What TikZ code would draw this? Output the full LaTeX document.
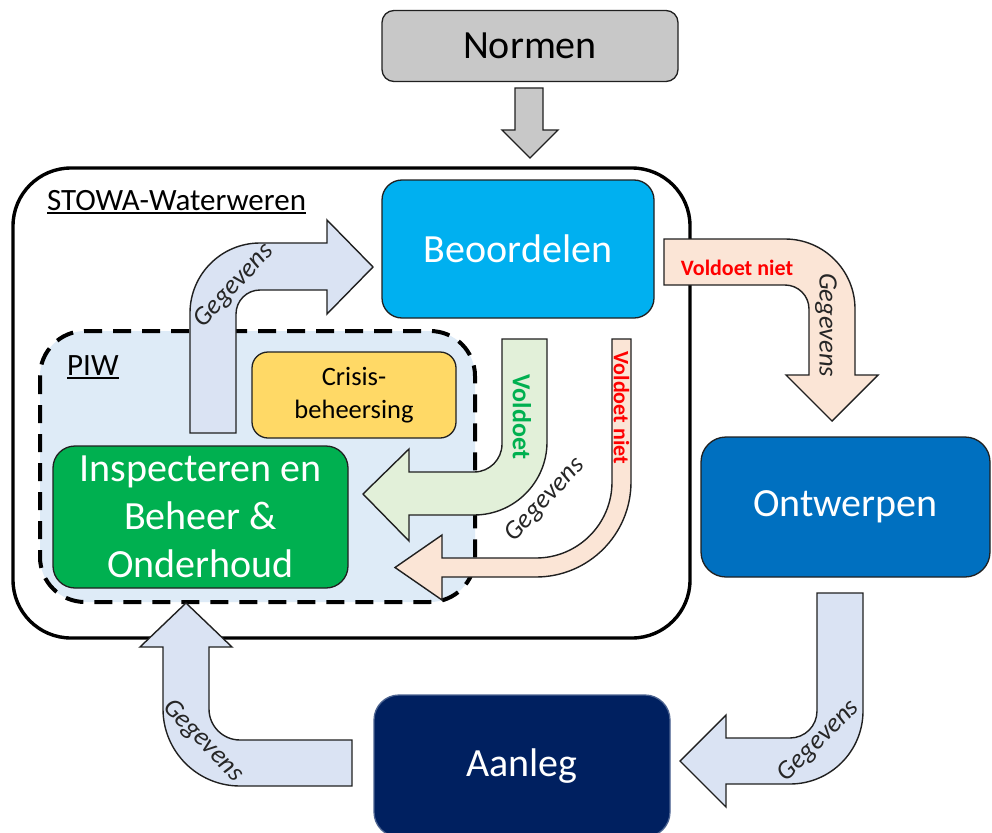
\documentclass[tikz,border=0pt]{standalone}
\usepackage{fontspec}
\setmainfont{Carlito}
\definecolor{normgray}{HTML}{C8C8C8}
\definecolor{beoblue}{HTML}{00B0F0}
\definecolor{ontblue}{HTML}{0070C0}
\definecolor{aanblue}{HTML}{002060}
\definecolor{insgreen}{HTML}{00B050}
\definecolor{crisyellow}{HTML}{FFD966}
\definecolor{piwfill}{HTML}{DEEBF7}
\definecolor{arrblue}{HTML}{DAE3F3}
\definecolor{arrgreen}{HTML}{E2F0D9}
\definecolor{arrsalmon}{HTML}{FBE5D6}
\definecolor{txtgreen}{HTML}{00B050}
\definecolor{edge}{HTML}{202020}
\newcommand{\myul}[1]{\setbox0\hbox{#1}\rlap{\rule[-4pt]{\wd0}{1.6pt}}\box0}
\begin{document}
\begin{tikzpicture}[x=1pt,y=-1pt,
  procbox/.style={draw=edge, line width=1.3pt, inner sep=0pt, align=center,
    text=white, font=\fontsize{40}{48}\selectfont},
  blockarrow/.style={draw=edge, line width=1.4pt, line join=miter},
  gegtext/.style={font=\itshape\fontsize{26.5}{30}\selectfont, text=black!85, inner sep=0pt},
  vtext/.style={font=\bfseries\fontsize{22}{26}\selectfont, text=red, inner sep=0pt}]
\useasboundingbox (0,0) rectangle (992,832);

% outer STOWA frame
\draw[line width=3.4pt, rounded corners=58pt, fill=white] (13,168) rectangle (690,638);
\node[anchor=base west, inner sep=0pt, font=\fontsize{31}{36}\selectfont] (stowa) at (47,210) {\myul{STOWA-Waterweren}};

% PIW dashed frame
\fill[piwfill, rounded corners=45pt] (40,331) rectangle (475,602);
\draw[line width=4pt, dash pattern=on 18pt off 11pt, rounded corners=45pt] (40,331) rectangle (475,602);
\node[anchor=base west, inner sep=0pt, font=\fontsize{31}{36}\selectfont] (piw) at (67,375) {\myul{PIW}};

% process boxes
\node[procbox, fill=normgray, text=black, rounded corners=12pt, minimum width=296pt, minimum height=71pt] (normen) at (530,46) {Normen};
\node[procbox, fill=beoblue, rounded corners=20pt, minimum width=272pt, minimum height=138pt] (beo) at (518,249) {Beoordelen};
\node[procbox, fill=ontblue, rounded corners=25pt, minimum width=289pt, minimum height=140pt] (ont) at (845.5,507) {Ontwerpen};
\node[procbox, fill=aanblue, draw=aanblue!70!white, rounded corners=25pt, minimum width=296pt, minimum height=142pt] (aan) at (522,766) {Aanleg};
\node[procbox, fill=insgreen, rounded corners=22pt, minimum width=295pt, minimum height=142pt] (ins) at (200.5,517) {Inspecteren en\\Beheer \&\\Onderhoud};
\node[procbox, fill=crisyellow, text=black, rounded corners=16pt, minimum width=204pt, minimum height=86pt, font=\fontsize{26.5}{33}\selectfont] (cris) at (354,395) {Crisis-\\beheersing};

% Normen -> STOWA arrow
\draw[blockarrow, fill=normgray] (515,88) -- (543,88) -- (543,130) -- (558,130) -- (530,158) -- (502,130) -- (515,130) -- cycle;

% Gegevens: PIW -> Beoordelen
\draw[blockarrow, fill=arrblue] (190,433) -- (190,313) arc[start angle=180,end angle=270,radius=70] -- (327,243) -- (327,220) -- (373,267) -- (327,314) -- (327,290) -- (260,290) arc[start angle=270,end angle=180,radius=24] -- (236,433) -- cycle;
\node[gegtext, rotate=47] (geg1) at (234,286) {Gegevens};

% Voldoet: Beoordelen -> Inspecteren
\draw[blockarrow, fill=arrgreen] (502,339) -- (547,339) -- (547,442) arc[start angle=0,end angle=90,radius=73] -- (409,515) -- (409,541) -- (363,494) -- (409,449) -- (409,472) -- (474,472) arc[start angle=90,end angle=0,radius=28] -- cycle;
\node[font=\bfseries\fontsize{26}{30}\selectfont, text=txtgreen, rotate=-90, inner sep=0pt] (vold) at (522,417) {Voldoet};

% Voldoet niet: Beoordelen -> Inspecteren (thin)
\draw[blockarrow, fill=arrsalmon] (612,339) -- (631,339) -- (631,482) arc[start angle=0,end angle=90,radius=95] -- (442,577) -- (442,600) -- (395,567.5) -- (442,535) -- (442,558) -- (536,558) arc[start angle=90,end angle=0,radius=76] -- cycle;
\node[vtext, rotate=-90] (vn1) at (621.5,408) {Voldoet niet};
\node[gegtext, rotate=47] (geg2) at (545,500) {Gegevens};

% Voldoet niet: Beoordelen -> Ontwerpen
\draw[blockarrow, fill=arrsalmon] (664,239) -- (785,239) arc[start angle=270,end angle=360,radius=70] -- (855,375) -- (878,375) -- (832,421) -- (786,375) -- (809,375) -- (809,309) arc[start angle=0,end angle=-90,radius=24] -- (664,285) -- cycle;
\node[vtext] (vn2) at (737,268) {Voldoet niet};
\node[gegtext, rotate=-90] (geg3) at (826,325) {Gegevens};

% Gegevens: Ontwerpen -> Aanleg
\draw[blockarrow, fill=arrblue] (817,593) -- (863,593) -- (863,711) arc[start angle=0,end angle=90,radius=73] -- (726,784) -- (726,807) -- (680,761) -- (726,715) -- (726,738) -- (790,738) arc[start angle=90,end angle=0,radius=27] -- cycle;
\node[gegtext, rotate=45] (geg4) at (819,741) {Gegevens};

% Gegevens: Aanleg -> PIW
\draw[blockarrow, fill=arrblue] (352,740) -- (240,740) arc[start angle=90,end angle=180,radius=31] -- (209,647) -- (232,647) -- (186,603) -- (140,647) -- (163,647) -- (163,709) arc[start angle=180,end angle=90,radius=77] -- (352,786) -- cycle;
\node[gegtext, rotate=-46] (geg5) at (203,741) {Gegevens};
\end{tikzpicture}
\end{document}
